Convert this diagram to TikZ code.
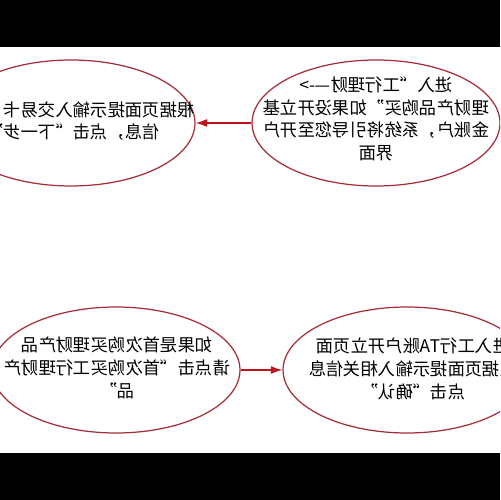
\documentclass[tikz,border=0pt]{standalone}
\usepackage{fontspec}
\newfontfamily\cjk{Noto Sans CJK SC}
\usetikzlibrary{shapes.geometric, arrows.meta}
\definecolor{ovalred}{RGB}{165,45,55}
\definecolor{flowred}{RGB}{190,20,30}
\tikzset{oval/.style={ellipse, draw=ovalred, line width=0.7pt, minimum width=4.96cm, minimum height=2.52cm}, txt/.style={font=\cjk\fontsize{9.9pt}{12.9pt}\selectfont, align=center, inner sep=0pt, xscale=-1}, every edge/.style={draw=flowred, -{Latex[length=6.5pt,width=4.5pt]}, line width=0.8pt}}

\begin{document}
\begin{tikzpicture}[x=0.02cm, y=-0.02cm]
            \useasboundingbox (0,0) rectangle (500,500);
            \clip (0,0) rectangle (500,500);
            \node[oval] (buy) at (376,123) {};
            \node[oval] (card) at (71,123) {};
            \node[oval] (first) at (116,370) {};
            \node[oval] (ta) at (407,370) {};
            \node[txt] (buytxt) at (376,119) {进入“工行理财—->\\理财产品购买”如果没开立基\\金账户，系统将引导您至开户\\界面};
            \node[txt] (cardtxt) at (73,121) {根据页面提示输入交易卡\hphantom{号等信}\\信息，点击“下一步”};
            \node[txt] (firsttxt) at (117,368) {如果是首次购买理财产品\\请点击“首次购买工行理财产\\品”};
            \node[txt] (tatxt) at (413,369) {进入工行TA账户开立页面\\根据页面提示输入相关信息\\点击“确认”};

            \draw   (buy) edge (card)
                    (first) edge (ta);

            \fill (0,0) rectangle (500,47);
            \fill (0,453) rectangle (500,500);
        \end{tikzpicture}
\end{document}
